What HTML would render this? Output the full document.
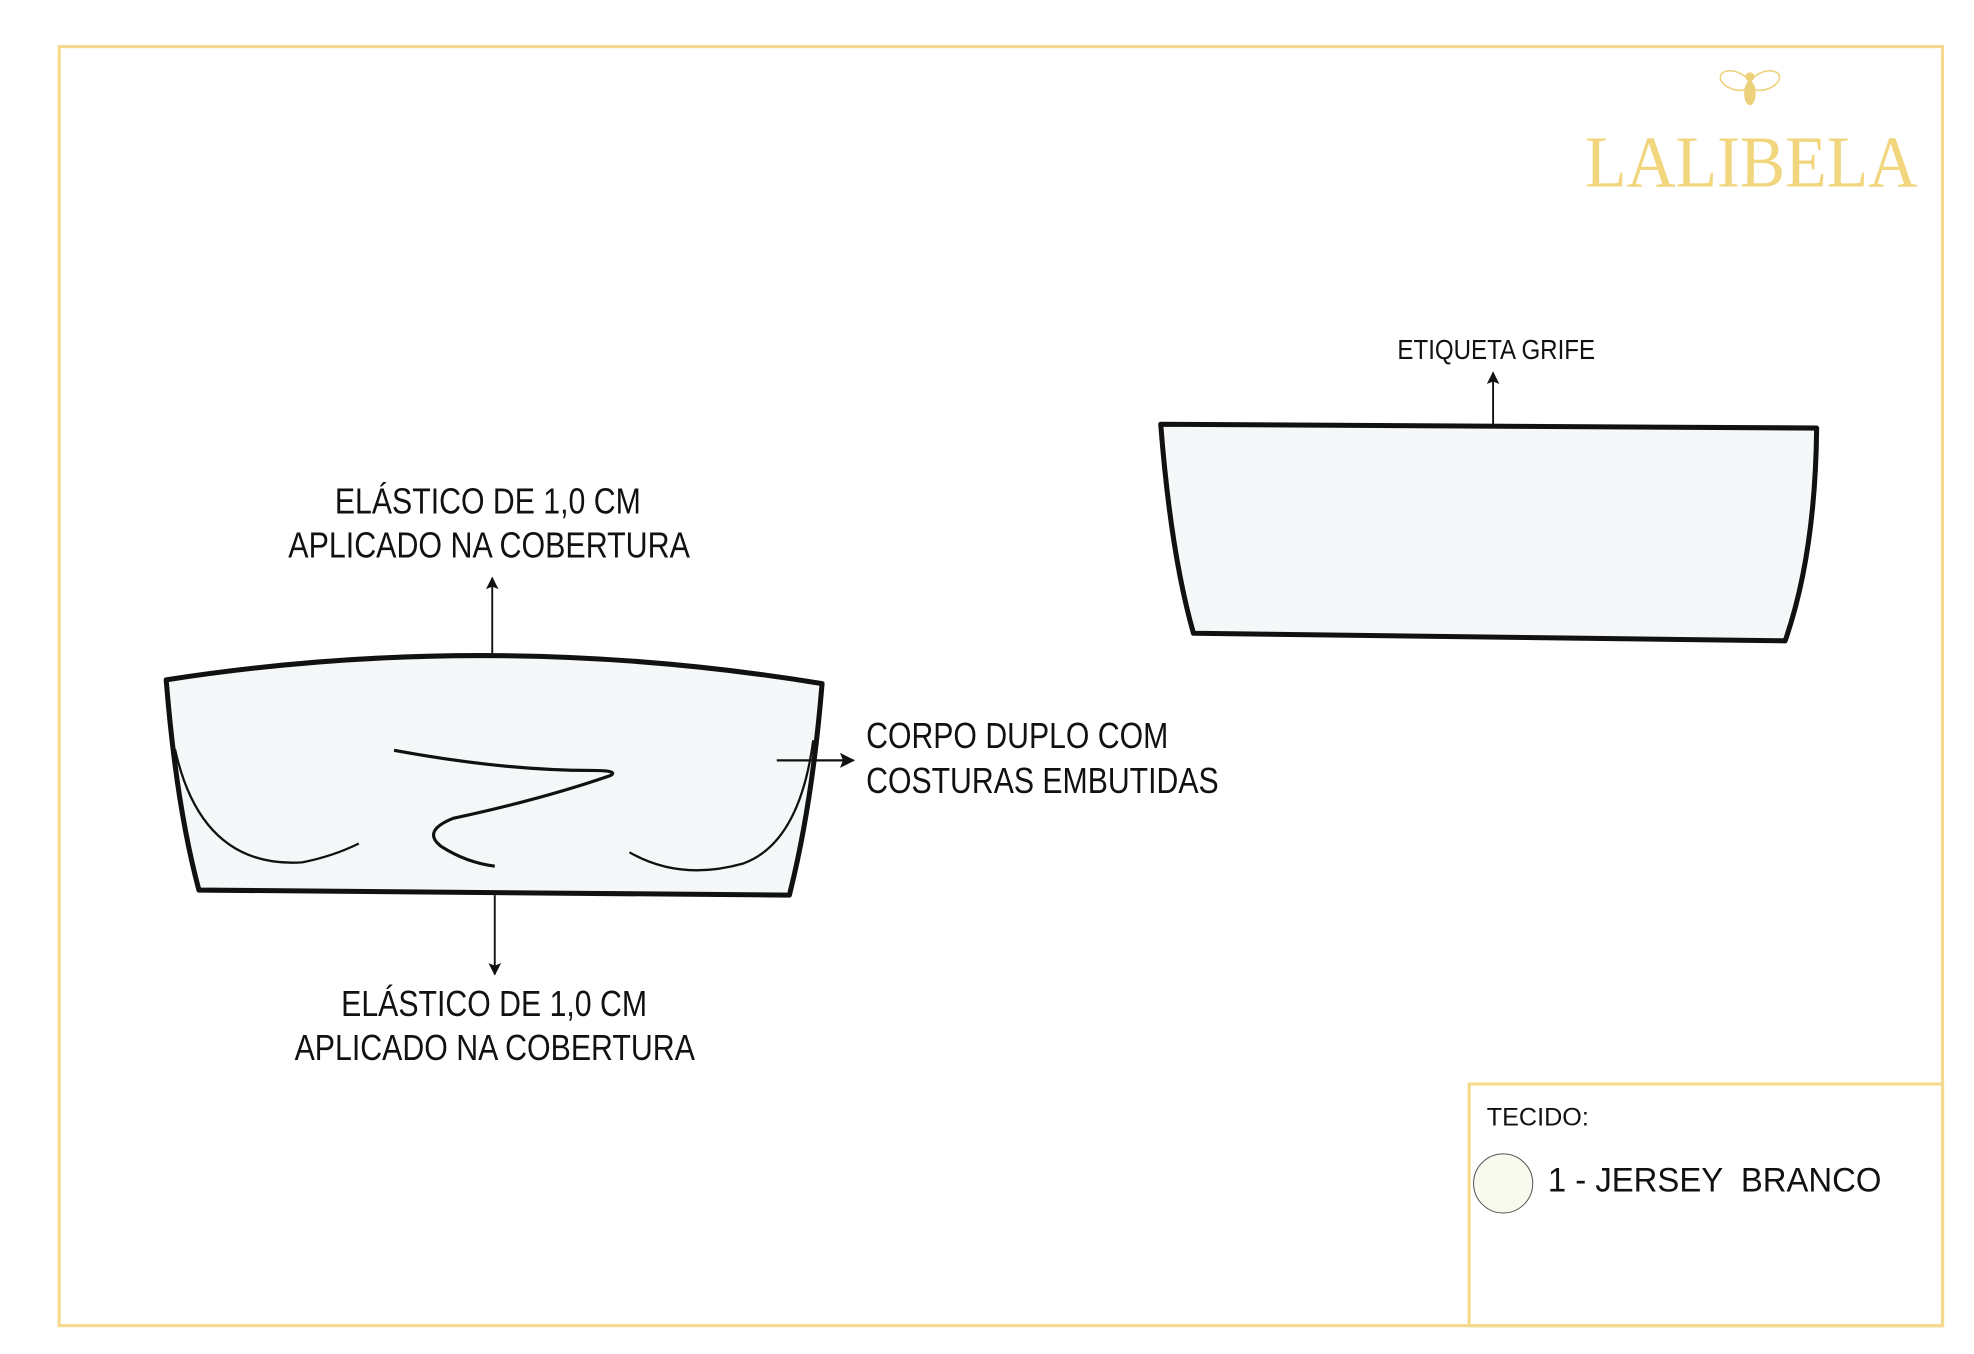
<!DOCTYPE html>
<html><head><meta charset="utf-8"><style>html,body{margin:0;padding:0;background:#fff}svg{display:block}</style></head>
<body>
<svg width="1974" height="1354" viewBox="0 0 1568 1075.5" xmlns="http://www.w3.org/2000/svg">
<defs><marker id="ah" viewBox="0 0 10 10" refX="9" refY="5" markerWidth="11" markerHeight="10" orient="auto" markerUnits="userSpaceOnUse"><path d="M0,0 L10,5 L0,10 L2,5 z" fill="#111"/></marker>
<marker id="ah2" viewBox="0 0 10 10" refX="9" refY="5" markerWidth="12" markerHeight="12" orient="auto" markerUnits="userSpaceOnUse"><path d="M0,0 L10,5 L0,10 L2,5 z" fill="#111"/></marker></defs>
<rect x="0" y="0" width="1568" height="1075.5" fill="#fff"/>
<rect x="47" y="37" width="1496" height="1016" fill="none" stroke="#f3da8c" stroke-width="2.5"/>
<rect x="1167" y="861" width="376" height="192" fill="none" stroke="#f3da8c" stroke-width="2.5"/>
<!-- logo -->
<g fill="none" stroke="#ecd07a" stroke-width="1.2">
<ellipse cx="1378" cy="64" rx="12" ry="7" transform="rotate(20 1378 64)"/>
<ellipse cx="1402" cy="64" rx="12" ry="7" transform="rotate(-20 1402 64)"/>
<ellipse cx="1390" cy="74" rx="4" ry="9" fill="#ecd07a"/>
<circle cx="1390" cy="61" r="3" fill="#ecd07a"/>
</g>
<text x="1259" y="148" font-family="Liberation Serif, serif" font-size="58" fill="#f1d67e" textLength="264" lengthAdjust="spacingAndGlyphs">LALIBELA</text>
<!-- left garment -->
<path d="M132,540 Q390,500 653,543 Q645,640 627,711 L158,707 Q140,640 132,540 Z" fill="#f5f8f9" stroke="#111" stroke-width="4" stroke-linejoin="round"/>
<path d="M139,595 Q160,690 240,685 Q265,680 285,670" fill="none" stroke="#111" stroke-width="1.8"/>
<path d="M500,677 Q540,700 590,686 Q635,670 646,588" fill="none" stroke="#111" stroke-width="1.8"/>
<path d="M313,596 Q400,612 470,612 Q492,612 485,616 Q430,635 360,650 Q335,660 350,672 Q370,685 393,688" fill="none" stroke="#111" stroke-width="2.5"/>
<line x1="391" y1="519" x2="391" y2="459" stroke="#111" stroke-width="1.5" marker-end="url(#ah)"/>
<line x1="393" y1="711" x2="393" y2="774" stroke="#111" stroke-width="1.5" marker-end="url(#ah)"/>
<line x1="617" y1="604" x2="678" y2="604" stroke="#111" stroke-width="1.8" marker-end="url(#ah2)"/>
<g font-family="Liberation Sans Narrow, Liberation Sans, sans-serif" font-size="29" fill="#111">
<text x="266" y="408" textLength="243" lengthAdjust="spacingAndGlyphs">ELÁSTICO DE 1,0 CM</text>
<text x="229" y="443" textLength="319" lengthAdjust="spacingAndGlyphs">APLICADO NA COBERTURA</text>
<text x="271" y="807" textLength="243" lengthAdjust="spacingAndGlyphs">ELÁSTICO DE 1,0 CM</text>
<text x="234" y="842" textLength="318" lengthAdjust="spacingAndGlyphs">APLICADO NA COBERTURA</text>
<text x="688" y="594" textLength="240" lengthAdjust="spacingAndGlyphs">CORPO DUPLO COM</text>
<text x="688" y="630" textLength="280" lengthAdjust="spacingAndGlyphs">COSTURAS EMBUTIDAS</text>
<text x="1110" y="285" font-size="22" textLength="157" lengthAdjust="spacingAndGlyphs">ETIQUETA GRIFE</text>
</g>
<!-- right garment -->
<path d="M922,337 L1443,340 Q1442,440 1418,509 L948,503 Q930,440 922,337 Z" fill="#f5f8f9" stroke="#111" stroke-width="4" stroke-linejoin="round"/>
<line x1="1186" y1="338" x2="1186" y2="296" stroke="#111" stroke-width="1.5" marker-end="url(#ah)"/>
<!-- tecido -->
<text x="1181" y="894" font-family="Liberation Sans, sans-serif" font-size="20" fill="#111">TECIDO:</text>
<circle cx="1194" cy="940" r="23.5" fill="#f8faee" stroke="#555" stroke-width="0.8"/>
<text x="1229.5" y="946.5" font-family="Liberation Sans, sans-serif" font-size="27" fill="#111" textLength="265" lengthAdjust="spacingAndGlyphs" xml:space="preserve">1 - JERSEY  BRANCO</text>
</svg>
</body></html>
